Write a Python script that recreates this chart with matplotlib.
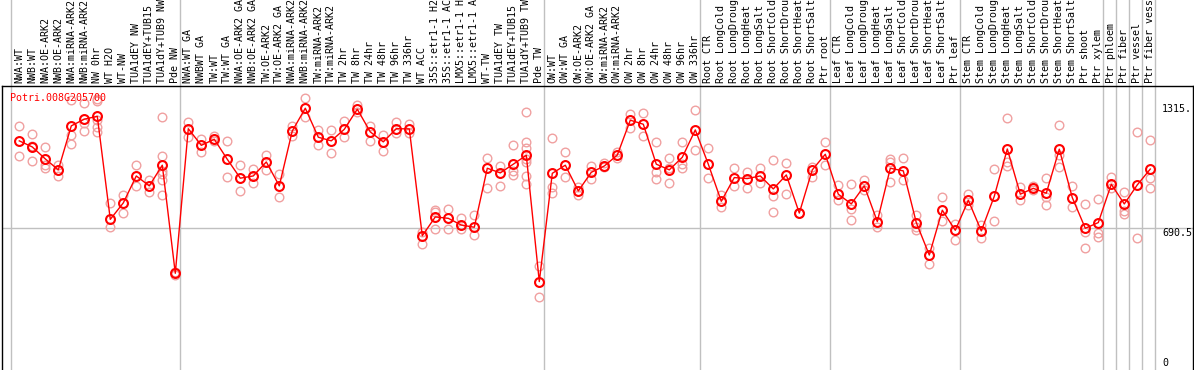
import matplotlib
matplotlib.use("Agg")
import matplotlib.pyplot as plt

gene = "Potri.008G205700"

labels = [
    "NWA:WT", "NWB:WT", "NWA:OE-ARK2", "NWB:OE-ARK2", "NWA:miRNA-ARK2", "NWB:miRNA-ARK2",
    "NW 0hr", "WT H2O", "WT-NW", "TUA1dEY NW", "TUA1dEY+TUB15 NW", "TUA1dY+TUB9 NW", "Pde NW",
    "NWA:WT GA", "NWBWT GA", "TW:WT", "TW:WT GA", "NWA:OE-ARK2 GA", "NWB:OE-ARK2 GA",
    "TW:OE-ARK2", "TW:OE-ARK2 GA", "NWA:miRNA-ARK2 GA", "NWB:miRNA-ARK2 GA", "TW:miRNA-ARK2",
    "TW:miRNA-ARK2 GA", "TW 2hr", "TW 8hr", "TW 24hr", "TW 48hr", "TW 96hr", "TW 336hr",
    "WT ACC", "35S::etr1-1 H2O", "35S::etr1-1 ACC", "LMX5::etr1-1 H2O", "LMX5::etr1-1 ACC",
    "WT-TW", "TUA1dEY TW", "TUA1dEY+TUB15 TW", "TUA1dY+TUB9 TW", "Pde TW",
    "OW:WT", "OW:WT GA", "OW:OE-ARK2", "OW:OE-ARK2 GA", "OW:miRNA-ARK2", "OW:miRNA-ARK2 GA",
    "OW 2hr", "OW 8hr", "OW 24hr", "OW 48hr", "OW 96hr", "OW 336hr",
    "Root CTR", "Root LongCold", "Root LongDrought", "Root LongHeat", "Root LongSalt",
    "Root ShortCold", "Root ShortDrought", "Root ShortHeat", "Root ShortSalt", "Ptr root",
    "Leaf CTR", "Leaf LongCold", "Leaf LongDrought", "Leaf LongHeat", "Leaf LongSalt",
    "Leaf ShortCold", "Leaf ShortDrought", "Leaf ShortHeat", "Leaf ShortSalt", "Ptr leaf",
    "Stem CTR", "Stem LongCold", "Stem LongDrought", "Stem LongHeat", "Stem LongSalt",
    "Stem ShortCold", "Stem ShortDrought", "Stem ShortHeat", "Stem ShortSalt", "Ptr shoot",
    "Ptr xylem", "Ptr phloem", "Ptr fiber", "Ptr vessel", "Ptr fiber vessel",
]

group_sizes = [13, 28, 12, 10, 10, 11, 1, 1, 1, 1]

means = [
    1120, 1090, 1031, 977, 1194, 1227, 1241, 733, 814, 947, 898, 1000, 467,
    1180, 1098, 1128, 1029, 936, 947, 1016, 898, 1169, 1281, 1138, 1120, 1177,
    1276, 1164, 1115, 1180, 1179, 652, 745, 738, 705, 694, 985, 962, 1005, 1049, 426,
    960, 1000, 873, 965, 996, 1050, 1222, 1202, 1005, 977, 1039, 1174,
    1005, 822, 939, 934, 947, 883, 952, 764, 977, 1054,
    857, 809, 898, 722, 985, 972, 717, 557, 778, 679,
    827, 676, 847, 1080, 857, 886, 862, 1079, 840, 689, 717,
    906, 809, 903, 981,
]

reps = [
    [1195, 1044], [1153, 1096, 1019], [1090, 1001, 988], [1001, 977, 948],
    [1322, 1149, 1106], [1305, 1210, 1169], [1327, 1317, 1223, 1190, 1165],
    [812, 697], [853, 764], [1001, 896], [927, 870],
    [1236, 1046, 972, 955, 927, 853], [475, 459],
    [1212, 1138], [1129, 1067], [1146, 1120], [1120, 942], [1001, 873], [980, 911],
    [1050, 977], [957, 843], [1195, 1146], [1330, 1236], [1174, 1098], [1174, 1059],
    [1218, 1138], [1297, 1264], [1195, 1120], [1149, 1070], [1212, 1158], [1203, 1158],
    [672, 610], [781, 768, 684], [783, 684], [738, 686], [755, 656],
    [1034, 886], [996, 898], [1098, 972, 952], [1263, 1116, 1084, 1031, 1017, 948, 907],
    [503, 349],
    [1133, 894, 862], [1064, 941], [894, 853], [996, 934], [1010, 993], [1067, 1034],
    [1253, 1185], [1256, 1143], [1113, 965, 934], [1034, 985, 911], [1113, 1006, 988],
    [1271, 1074],
    [1084, 936], [853, 796], [985, 899], [965, 886], [985, 914], [1026, 850, 768],
    [1010, 857], [764, 764], [993, 940], [1113, 1001],
    [903, 829], [907, 784, 730], [927, 878], [755, 697], [1031, 1014, 916], [1037, 927],
    [755, 697, 681], [590, 511], [843, 725], [712, 631],
    [857, 804], [705, 643], [981, 725], [1233, 1014, 996], [894, 829], [899, 878],
    [936, 845, 804], [1197, 1050, 990], [899, 794], [809, 672, 592], [834, 664, 648],
    [943, 889], [870, 774, 758], [1164, 640], [1124, 936, 886],
]

scale_labels = ["1315.", "690.5", "0"]
scale_values = [1300, 690.5, 0]

mono = "DejaVu Sans Mono"
fs = 7.2

fig = plt.figure(figsize=(11.94, 3.70), dpi=100)
ax = fig.add_axes([1.5 / 1194, 0, 1191.2 / 1194, 284.5 / 370])
ax.set_xlim(-1.369, 90.262)
ax.set_ylim(-9.9, 1393)

# group separators, running up through the label strip
start = 0
bounds = [-0.6]
for g in group_sizes:
    start += g
    bounds.append(start - 0.6)
for b in bounds:
    ax.axvline(b, ymin=0, ymax=1.31, color="#c0c0c0", lw=1.0, clip_on=False, zorder=1)
ax.axhline(690.5, color="#c0c0c0", lw=1.0, zorder=1)

xs = list(range(len(labels)))
for i, r in enumerate(reps):
    ax.plot([i] * len(r), r, "o", ms=6.2, mfc="none", mec="#f0a0a0", mew=1.0, zorder=2)
ax.plot(xs, means, "-", color="red", lw=1.0, zorder=3)
ax.plot(xs, means, "o", ms=6.4, mfc="none", mec="red", mew=1.5, zorder=4)

xt = ax.get_xaxis_transform()
for i, lab in enumerate(labels):
    ax.text(i, 1.0085, lab, transform=xt, rotation=90, ha="center", va="bottom",
            family=mono, fontsize=fs, clip_on=False)

ax.text(0.0072, 0.947, gene, transform=ax.transAxes, color="red", family=mono,
        fontsize=fs, va="baseline", ha="left", zorder=5)

for lab, v in zip(scale_labels, scale_values):
    ax.text(87.9, v, lab, family=mono, fontsize=fs, ha="left",
            va="bottom" if v == 0 else "top")

ax.set_xticks([])
ax.set_yticks([])
ax.spines["bottom"].set_visible(False)
for s in ["left", "top", "right"]:
    ax.spines[s].set_linewidth(1.0)

fig.savefig("out.png", dpi=100)
